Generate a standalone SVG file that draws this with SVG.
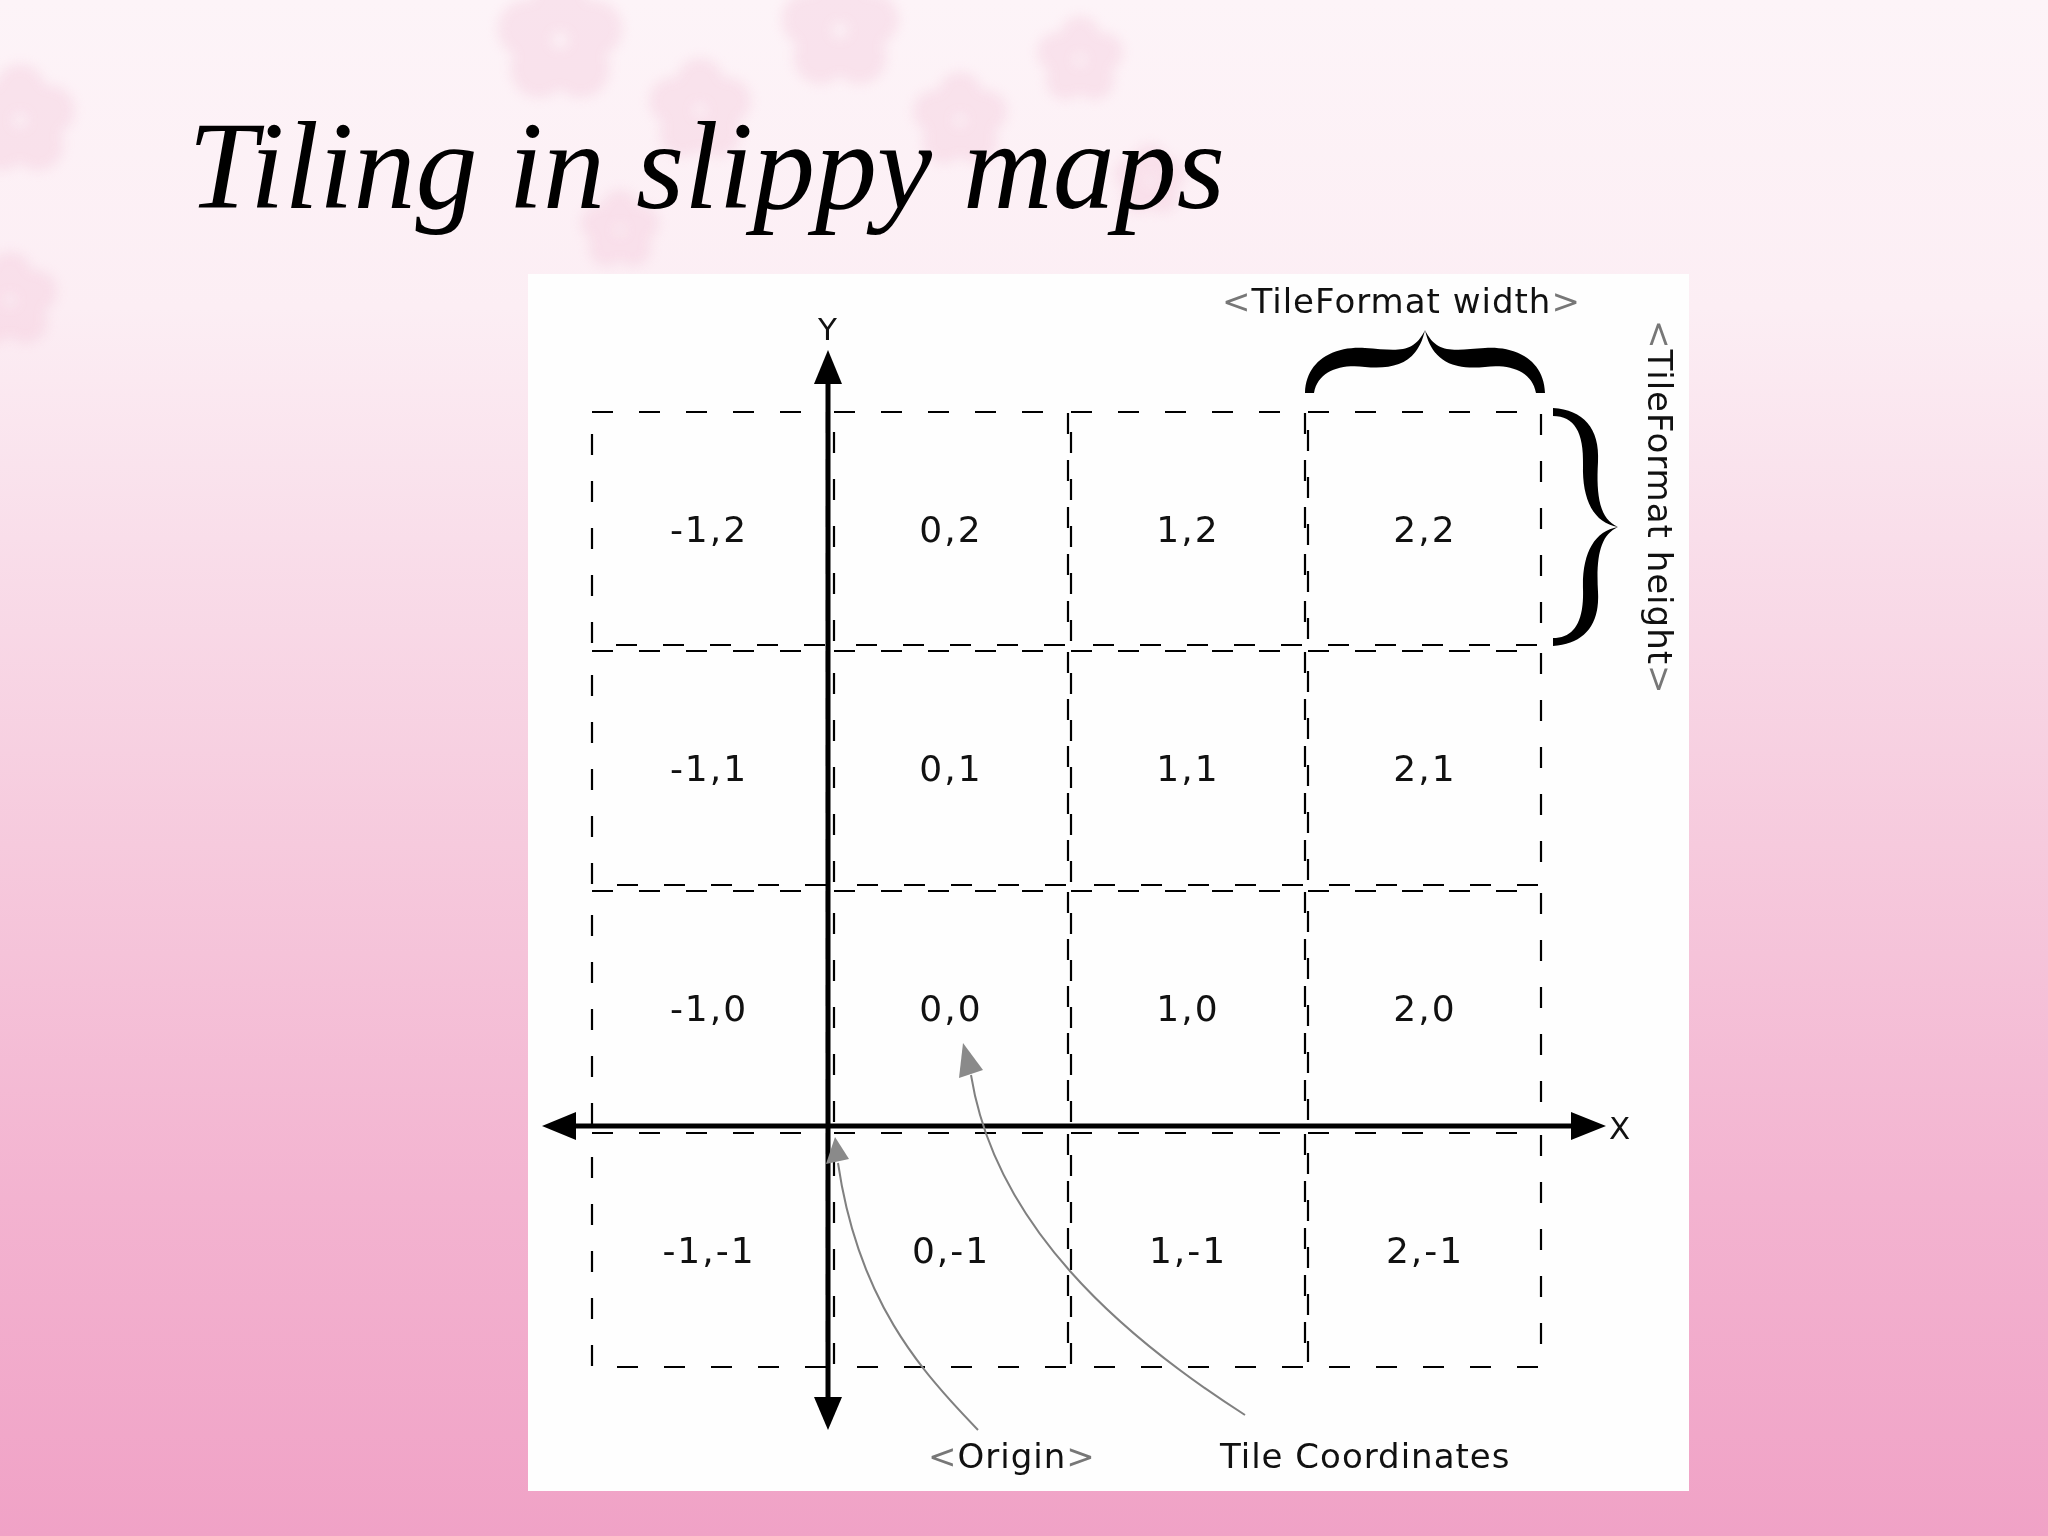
<svg xmlns="http://www.w3.org/2000/svg" width="2048" height="1536" viewBox="0 0 2048 1536">
  <defs>
    <linearGradient id="bg" x1="0" y1="0" x2="0" y2="1">
      <stop offset="0" stop-color="#FDF4F8"/>
      <stop offset="0.2" stop-color="#FCEEF4"/>
      <stop offset="0.35" stop-color="#F9DEEA"/>
      <stop offset="0.55" stop-color="#F6CADD"/>
      <stop offset="0.78" stop-color="#F3B3D0"/>
      <stop offset="1" stop-color="#F0A2C6"/>
    </linearGradient>
    <filter id="soft" x="-20%" y="-20%" width="140%" height="140%">
      <feGaussianBlur stdDeviation="6"/>
    </filter>
    <g id="flower">
      <circle cx="0" cy="-22" r="18"/>
      <circle cx="21" cy="-7" r="18"/>
      <circle cx="13" cy="18" r="18"/>
      <circle cx="-13" cy="18" r="18"/>
      <circle cx="-21" cy="-7" r="18"/>
    </g>
    <style>
      .tile rect { fill: none; stroke: #000; stroke-width: 2.2; stroke-dasharray: 21 26; }
      .tile text { font-family: "DejaVu Sans", Verdana, sans-serif; font-size: 36px; fill: #111; letter-spacing: 2px; text-anchor: middle; }
      .lbl { font-family: "DejaVu Sans", Verdana, sans-serif; font-size: 34px; fill: #111; letter-spacing: 1px; }
      .axis { stroke: #000; stroke-width: 5; fill: none; }
      .head { fill: #000; }
      .ann { stroke: #808080; stroke-width: 2; fill: none; }
      .annhead { fill: #8a8a8a; }
      .brace { fill: #000; }
      .ang { fill: #777; }
    </style>
  </defs>

  <!-- background -->
  <rect x="0" y="0" width="2048" height="1536" fill="url(#bg)"/>
  <g fill="#F2BCD3" opacity="0.3" filter="url(#soft)">
    <use href="#flower" transform="translate(560,40) scale(1.6)"/>
    <use href="#flower" transform="translate(700,110) scale(1.3)"/>
    <use href="#flower" transform="translate(840,30) scale(1.5)"/>
    <use href="#flower" transform="translate(960,120) scale(1.2)"/>
    <use href="#flower" transform="translate(1080,60) scale(1.1)"/>
    <use href="#flower" transform="translate(620,230) scale(1.0)"/>
    <use href="#flower" transform="translate(1150,180) scale(0.9)"/>
    <use href="#flower" transform="translate(20,120) scale(1.4)"/>
    <use href="#flower" transform="translate(10,300) scale(1.2)"/>
  </g>

  <!-- title -->
  <text x="188" y="208" font-family="'Liberation Serif', 'Times New Roman', serif" font-style="italic" font-size="124" fill="#000">Tiling in slippy maps</text>

  <!-- panel -->
  <rect x="528" y="274" width="1161" height="1217" fill="#FEFEFE"/>

  <!-- tiles -->
  <g id="tiles">
    <g id="tile-m1-2" class="tile"><rect x="592" y="412" width="235" height="233"/><text x="709" y="542">-1,2</text></g>
    <g id="tile-0-2" class="tile"><rect x="834" y="412" width="234" height="233"/><text x="951" y="542">0,2</text></g>
    <g id="tile-1-2" class="tile"><rect x="1071" y="412" width="234" height="233"/><text x="1188" y="542">1,2</text></g>
    <g id="tile-2-2" class="tile"><rect x="1308" y="412" width="233" height="233"/><text x="1425" y="542">2,2</text></g>

    <g id="tile-m1-1" class="tile"><rect x="592" y="651" width="235" height="234"/><text x="709" y="781">-1,1</text></g>
    <g id="tile-0-1" class="tile"><rect x="834" y="651" width="234" height="234"/><text x="951" y="781">0,1</text></g>
    <g id="tile-1-1" class="tile"><rect x="1071" y="651" width="234" height="234"/><text x="1188" y="781">1,1</text></g>
    <g id="tile-2-1" class="tile"><rect x="1308" y="651" width="233" height="234"/><text x="1425" y="781">2,1</text></g>

    <g id="tile-m1-0" class="tile"><rect x="592" y="891" width="235" height="234"/><text x="709" y="1021">-1,0</text></g>
    <g id="tile-0-0" class="tile"><rect x="834" y="891" width="234" height="234"/><text x="951" y="1021">0,0</text></g>
    <g id="tile-1-0" class="tile"><rect x="1071" y="891" width="234" height="234"/><text x="1188" y="1021">1,0</text></g>
    <g id="tile-2-0" class="tile"><rect x="1308" y="891" width="233" height="234"/><text x="1425" y="1021">2,0</text></g>

    <g id="tile-m1-m1" class="tile"><rect x="592" y="1133" width="235" height="234"/><text x="709" y="1263">-1,-1</text></g>
    <g id="tile-0-m1" class="tile"><rect x="834" y="1133" width="234" height="234"/><text x="951" y="1263">0,-1</text></g>
    <g id="tile-1-m1" class="tile"><rect x="1071" y="1133" width="234" height="234"/><text x="1188" y="1263">1,-1</text></g>
    <g id="tile-2-m1" class="tile"><rect x="1308" y="1133" width="233" height="234"/><text x="1425" y="1263">2,-1</text></g>
  </g>

  <!-- connectors: axes and annotation arrows -->
  <g id="connectors">
    <line class="axis" x1="828" y1="380" x2="828" y2="1400"/>
    <polygon class="head" points="828,350 814,384 842,384"/>
    <polygon class="head" points="828,1430 814,1397 842,1397"/>
    <line class="axis" x1="572" y1="1126" x2="1575" y2="1126"/>
    <polygon class="head" points="542,1126 576,1112 576,1140"/>
    <polygon class="head" points="1606,1126 1571,1112 1571,1140"/>

    <path class="ann" d="M978,1430 C920,1370 858,1300 838,1163"/>
    <polygon class="annhead" points="835,1137 826,1164 849,1159"/>
    <path class="ann" d="M1245,1415 C1120,1335 995,1225 971,1075"/>
    <polygon class="annhead" points="963,1043 959,1078 983,1070"/>
  </g>

  <!-- axis labels -->
  <text class="lbl" x="828" y="340" text-anchor="middle" style="font-size:31px">Y</text>
  <text class="lbl" x="1609" y="1139" style="font-size:31px">X</text>

  <!-- annotation labels -->
  <text class="lbl" x="928" y="1468"><tspan class="ang">&lt;</tspan>Origin<tspan class="ang">&gt;</tspan></text>
  <text class="lbl" x="1220" y="1468">Tile Coordinates</text>
  <text class="lbl" x="1222" y="313"><tspan class="ang">&lt;</tspan>TileFormat width<tspan class="ang">&gt;</tspan></text>
  <text class="lbl" transform="translate(1648,320) rotate(90)"><tspan class="ang">&lt;</tspan>TileFormat height<tspan class="ang">&gt;</tspan></text>

  <!-- braces -->
  <g id="brace-width">
    <path class="brace" d="M1305,393 C1306,360 1334,346 1365,348 C1396,350 1413,355 1425,330 C1418,362 1396,370 1365,367 C1340,364 1318,371 1314,393 Z"/>
    <path class="brace" d="M1545,393 C1544,360 1516,346 1485,348 C1454,350 1437,355 1425,330 C1432,362 1454,370 1485,367 C1510,364 1532,371 1536,393 Z"/>
  </g>
  <g id="brace-height">
    <path class="brace" d="M1553,408 C1583,410 1600,428 1598,462 C1596,497 1600,519 1618,527 C1594,523 1582,500 1583,465 C1584,432 1574,416 1553,416 Z"/>
    <path class="brace" d="M1553,646 C1583,644 1600,626 1598,592 C1596,557 1600,535 1618,527 C1594,531 1582,554 1583,589 C1584,622 1574,638 1553,638 Z"/>
  </g>
</svg>
